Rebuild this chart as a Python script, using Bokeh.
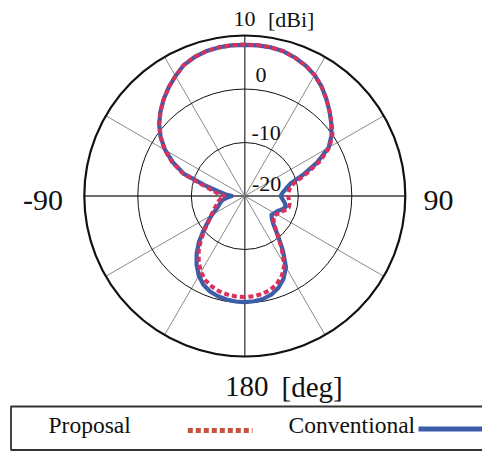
import math
from bokeh.plotting import figure
from bokeh.models import Range1d
from bokeh.core.properties import value
from bokeh.embed import file_html
from bokeh.resources import INLINE

# ---------------- data ----------------
angles_deg = list(range(-180, 180, 5))

conventional_dbi = [
    -0.15, -0.2, -0.35, -0.6, -1.0, -1.7, -2.8, -4.3, -6.0, -7.9,
    -9.9, -11.6, -12.9, -14.1, -14.8, -15.3, -15.8, -16.7, -17.6, -16.3,
    -14.9, -12.2, -7.9, -5.2, -2.8, -0.8, 0.9, 2.3, 3.6, 4.8,
    5.9, 7.0, 7.6, 8.0, 8.2, 8.25, 8.25, 8.25, 8.2, 8.0,
    7.5, 6.9, 6.1, 5.0, 3.7, 2.4, 1.1, -0.2, -1.9, -5.0,
    -8.4, -11.2, -12.2, -12.9, -13.3, -12.9, -12.4, -12.1, -12.6, -13.3,
    -13.6, -13.9, -13.4, -12.4, -10.4, -7.6, -4.6, -2.9, -1.7, -0.9,
    -0.45, -0.25,
]

proposal_dbi = [
    -1.1, -1.15, -1.3, -1.55, -2.0, -2.6, -3.6, -5.0, -6.6, -8.4,
    -10.2, -11.7, -12.7, -13.5, -14.2, -14.7, -15.1, -15.6, -16.3, -15.0,
    -13.8, -11.6, -7.7, -5.0, -2.7, -0.8, 0.9, 2.3, 3.6, 4.8,
    5.9, 7.0, 7.6, 8.0, 8.2, 8.3, 8.3, 8.3, 8.2, 8.0,
    7.5, 6.9, 6.1, 5.0, 3.7, 2.4, 1.2, 0.0, -1.7, -4.4,
    -7.7, -10.4, -11.4, -11.8, -11.9, -11.7, -11.5, -11.5, -12.1, -12.8,
    -13.2, -13.4, -13.0, -12.1, -10.4, -8.0, -5.2, -3.6, -2.5, -1.8,
    -1.4, -1.2,
]

ring_levels = [-10, 0, 10]
ring_labels = ["0", "-10", "-20"]
spoke_angles = [0, 30, 60, 90, 120, 150, 180, 210, 240, 270, 300, 330]
series_names = ["Proposal", "Conventional"]

# ---------------- layout ----------------
W, H = 482, 451
R_MIN, R_MAX = -20, 10
CX, CY = 244.3, 195.5
K = 5.35  # px per dB

def polar(theta_deg, g):
    r = (g - R_MIN) * K
    t = math.radians(theta_deg)
    return CX + r * math.sin(t), CY - r * math.cos(t)

p = figure(width=W, height=H, output_backend="svg", toolbar_location=None,
           x_range=Range1d(0, W), y_range=Range1d(H, 0),
           x_axis_location=None, y_axis_location=None, min_border=0)
p.grid.visible = False
p.outline_line_color = None
p.background_fill_color = "white"
p.border_fill_color = "white"

serif = value("Liberation Serif")

# spokes
for a in spoke_angles:
    x1, y1 = polar(a, R_MAX)
    main = a % 90 == 0
    p.line([CX, x1], [CY, y1], line_color="#3c3c3c" if main else "#8a8a8a",
           line_width=1.3 if main else 1)

# rings
for lv in ring_levels:
    outer = lv == R_MAX
    p.circle(x=[CX], y=[CY], radius=(lv - R_MIN) * K, fill_color=None,
             line_color="#111111", line_width=2.2 if outer else 1)

# curves
def curve(vals):
    xs, ys = [], []
    for a, g in zip(angles_deg + [angles_deg[0]], vals + [vals[0]]):
        x, y = polar(a, g)
        xs.append(x)
        ys.append(y)
    return xs, ys

cx_, cy_ = curve(conventional_dbi)
p.line(cx_, cy_, line_color="#3c5da8", line_width=4.2, line_join="round")
px_, py_ = curve(proposal_dbi)
p.line(px_, py_, line_color="#d9315c", line_width=4, line_dash="5 3")

# radial labels
p.text(x=[233.0], y=[18.5], text=["10"], text_font=serif, text_font_size="22px",
       text_baseline="alphabetic", text_align="left", text_color="#111111")
p.text(x=[267.5], y=[18.5], text=["[dBi]"], text_font=serif, text_font_size="22px",
       text_baseline="alphabetic", text_align="left", text_color="#111111")
p.text(x=[255.0, 251.0, 251.5], y=[74.5, 132.5, 183.5], text=ring_labels,
       text_font=serif, text_font_size="22px", text_baseline="alphabetic",
       text_align="left", text_color="#111111")

# angle labels
p.text(x=[22.5, 423.0], y=[199.5, 199.5], text=["-90", "90"], text_font=serif,
       text_font_size="30px", text_baseline="alphabetic", text_align="left",
       text_color="#111111")
p.text(x=[224.5, 281.0], y=[386.3, 386.3], text=["180", "[deg]"], text_font=serif,
       text_font_size="29px", text_baseline="alphabetic", text_align="left",
       text_color="#111111")

# legend box
LT, LB, LL = 406.0, 449.5, 10.5
p.line([520, LL, LL, 520], [LT, LT, LB, LB], line_color="#333333", line_width=1.8)
p.text(x=[48.0, 288.0], y=[424.8, 424.8], text=series_names, text_font=serif,
       text_font_size="23.5px", text_baseline="alphabetic", text_align="left",
       text_color="#111111")
p.line([187.3, 252.0], [430.0, 430.0], line_color="#c4523f", line_width=5,
       line_dash="5 3")
p.line([418.0, 485.0], [428.5, 428.5], line_color="#3c5da8", line_width=5)

open("out.html", "w").write(file_html(p, INLINE))
